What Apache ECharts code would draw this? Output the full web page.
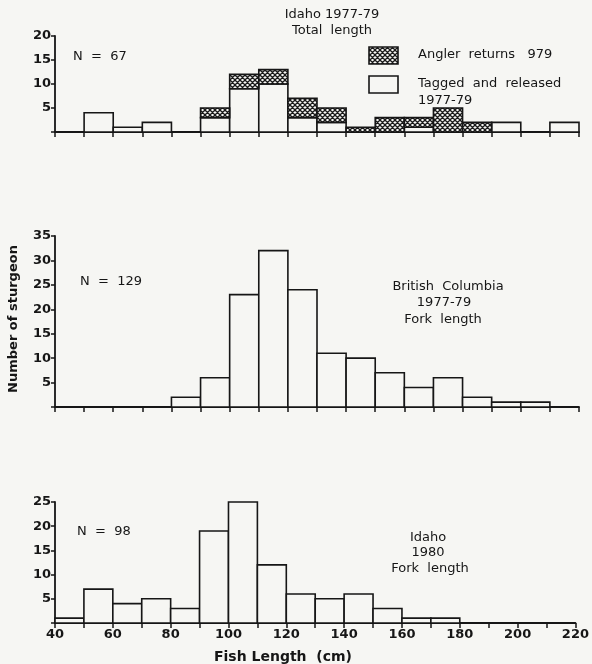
<!DOCTYPE html>
<html>
<head>
<meta charset="utf-8">
<script src="https://cdn.jsdelivr.net/npm/echarts@6/dist/echarts.min.js"></script>
<style>
  html, body { margin: 0; padding: 0; background: #f6f6f3; }
  #chart { width: 592px; height: 664px; }
</style>
</head>
<body>
<div id="chart"></div>
<script>
// Bin lower edges (cm); each bin is 10 cm wide
const binStarts = [40, 50, 60, 70, 80, 90, 100, 110, 120, 130, 140, 150, 160, 170, 180, 190, 200, 210];
const binWidth = 10;
// Idaho 1977-79, total length
const idahoTagged  = [0, 4, 1, 2, 0, 3, 9, 10, 3, 2, 0, 0, 1, 0, 0, 2, 0, 2];
const idahoAngler  = [0, 0, 0, 0, 0, 2, 3, 3, 4, 3, 1, 3, 2, 5, 2, 0, 0, 0];
// British Columbia 1977-79, fork length
const bcCounts     = [0, 0, 0, 0, 2, 6, 23, 32, 24, 11, 10, 7, 4, 6, 2, 1, 1, 0];
// Idaho 1980, fork length
const idaho80      = [1, 7, 4, 5, 3, 19, 25, 12, 6, 5, 6, 3, 1, 1, 0, 0, 0, 0];
const xTicks = [40, 60, 80, 100, 120, 140, 160, 180, 200, 220];

const BG = '#f6f6f3';
const INK = '#161616';
const FONT = 'DejaVu Sans';

// crosshatch pattern
const S = 5;
const pc = document.createElement('canvas');
pc.width = S; pc.height = S;
const g = pc.getContext('2d');
g.fillStyle = BG; g.fillRect(0, 0, S, S);
g.strokeStyle = '#1a1a1a'; g.lineWidth = 1.3;
g.beginPath();
for (let k = -S; k <= S; k += S) {
  g.moveTo(k, 0); g.lineTo(k + S, S);
  g.moveTo(k + S, 0); g.lineTo(k, S);
}
g.stroke();
const hatch = { image: pc, repeat: 'repeat' };

function rows(lows, highs) {
  const out = [];
  binStarts.forEach((b, i) => {
    if (highs[i] > lows[i]) out.push([b, b + binWidth, lows[i], highs[i]]);
  });
  return out;
}

function barSeries(idx, data, fill) {
  return {
    type: 'custom', xAxisIndex: idx, yAxisIndex: idx,
    encode: { x: [0, 1], y: [2, 3] },
    data: data,
    renderItem: function (params, api) {
      const p0 = api.coord([api.value(0), api.value(3)]);
      const p1 = api.coord([api.value(1), api.value(2)]);
      return {
        type: 'rect',
        shape: { x: p0[0], y: p0[1], width: p1[0] - p0[0], height: p1[1] - p0[1] },
        style: { fill: fill, stroke: INK, lineWidth: 1.6 }
      };
    }
  };
}

const zeros = binStarts.map(() => 0);
const idahoTotal = idahoTagged.map((v, i) => v + idahoAngler[i]);

const grids = [
  { left: 55, right: 13, top: 36, height: 96 },
  { left: 55, right: 13, top: 236, height: 171 },
  { left: 55, right: 13, top: 502, height: 121 }
];
const yMax = [20, 35, 25];

function xAxis(i, showLabels) {
  return {
    type: 'value', gridIndex: i, min: 40, max: 220, interval: 10,
    axisLine: { show: true, onZero: false, lineStyle: { color: INK, width: 1.8 } },
    axisTick: { show: true, length: 5, lineStyle: { color: INK, width: 1.5 } },
    splitLine: { show: false },
    axisLabel: {
      show: showLabels, margin: 5, color: INK, fontFamily: FONT, fontSize: 13, fontWeight: 'bold',
      formatter: v => (xTicks.indexOf(v) >= 0 ? String(v) : '')
    }
  };
}
function yAxis(i) {
  return {
    type: 'value', gridIndex: i, min: 0, max: yMax[i], interval: 5,
    axisLine: { show: true, lineStyle: { color: INK, width: 1.8 } },
    axisTick: { show: true, length: 4, lineStyle: { color: INK, width: 1.5 } },
    splitLine: { show: false },
    axisLabel: {
      margin: 4, color: INK, fontFamily: FONT, fontSize: 13, fontWeight: 'bold',
      formatter: v => (v === 0 ? '' : String(v))
    }
  };
}

const txt = (x, y, s, align, size, weight) => ({
  type: 'text', x: x, y: y,
  style: {
    text: s, fill: INK, font: (weight || 'normal') + ' ' + (size || 13) + 'px "' + FONT + '"',
    textAlign: align || 'left', textVerticalAlign: 'middle'
  }
});

const option = {
  backgroundColor: BG,
  animation: false,
  grid: grids,
  xAxis: [xAxis(0, false), xAxis(1, false), xAxis(2, true)],
  yAxis: [yAxis(0), yAxis(1), yAxis(2)],
  series: [
    barSeries(0, rows(zeros, idahoTagged), BG),
    barSeries(0, rows(idahoTagged, idahoTotal), hatch),
    barSeries(1, rows(zeros, bcCounts), BG),
    barSeries(2, rows(zeros, idaho80), BG)
  ],
  graphic: [
    txt(332, 15, 'Idaho 1977-79', 'center'),
    txt(332, 31, 'Total  length', 'center'),
    txt(73, 57, 'N  =  67', 'left'),
    { type: 'rect', shape: { x: 369, y: 47, width: 29, height: 17 }, style: { fill: hatch, stroke: INK, lineWidth: 1.6 } },
    { type: 'rect', shape: { x: 369, y: 76, width: 29, height: 17 }, style: { fill: BG, stroke: INK, lineWidth: 1.6 } },
    txt(418, 55, 'Angler  returns   979', 'left'),
    txt(418, 84, 'Tagged  and  released', 'left'),
    txt(418, 101, '1977-79', 'left'),

    txt(80, 282, 'N  =  129', 'left'),
    txt(448, 287, 'British  Columbia', 'center'),
    txt(444, 303, '1977-79', 'center'),
    txt(443, 320, 'Fork  length', 'center'),

    txt(77, 532, 'N  =  98', 'left'),
    txt(428, 538, 'Idaho', 'center'),
    txt(428, 553, '1980', 'center'),
    txt(430, 569, 'Fork  length', 'center'),

    txt(283, 657, 'Fish Length  (cm)', 'center', 14, 'bold'),
    {
      type: 'text', x: 14, y: 319, rotation: Math.PI / 2,
      style: {
        text: 'Number of sturgeon', fill: INK, font: 'bold 13px "' + FONT + '"',
        textAlign: 'center', textVerticalAlign: 'middle'
      }
    }
  ]
};

const chart = echarts.init(document.getElementById('chart'), null, { renderer: 'canvas' });
chart.setOption(option);
</script>
</body>
</html>
